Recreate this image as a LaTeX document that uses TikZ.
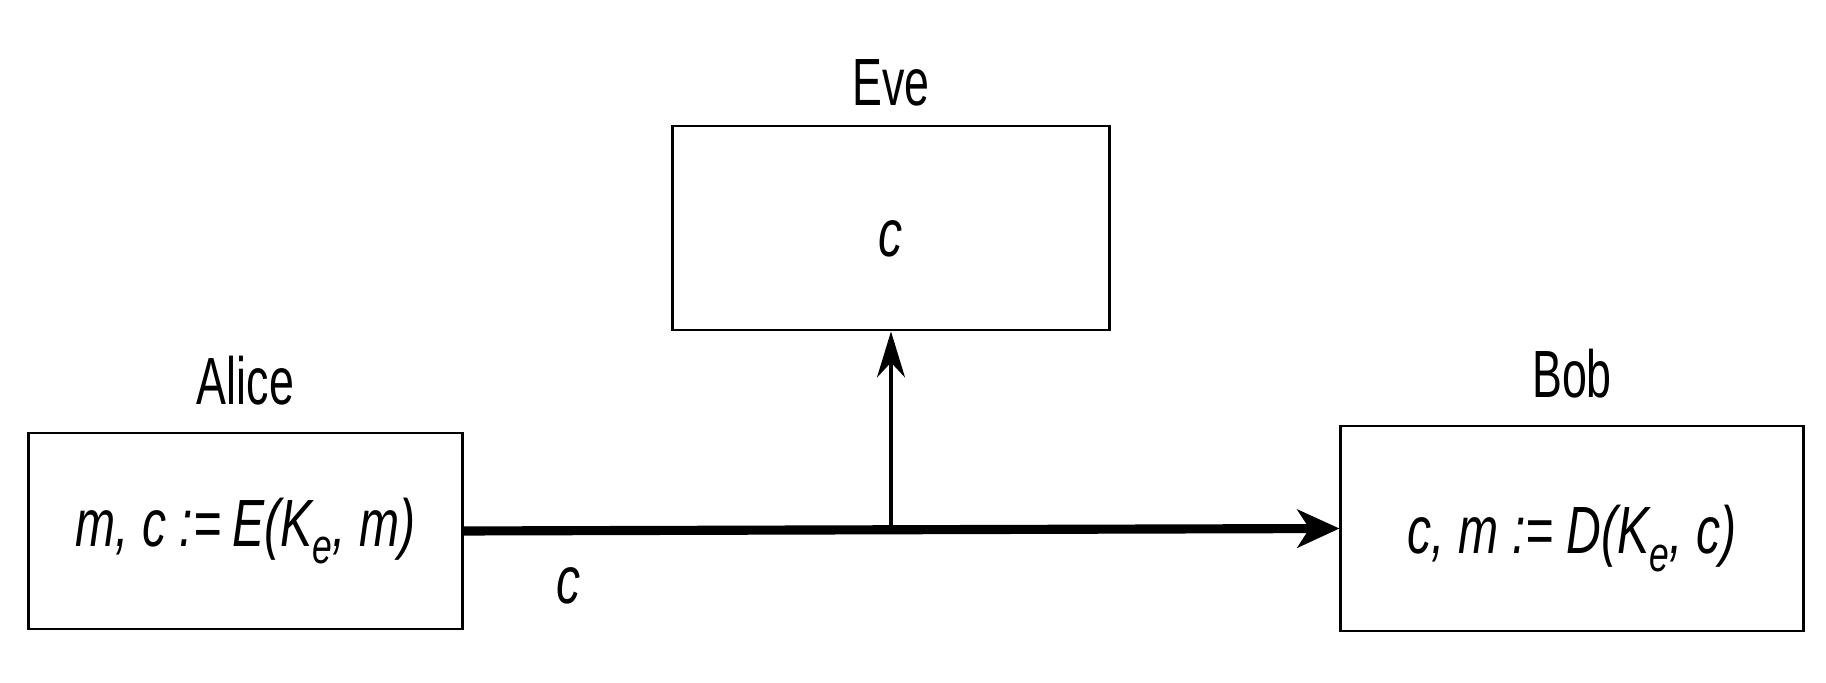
\documentclass[tikz,border=0pt]{standalone}
\usepackage{fontspec}
\setmainfont{Liberation Sans}[FakeStretch=0.67]
\newfontfamily\formfont{Liberation Sans}[FakeStretch=0.72]
\usetikzlibrary{positioning,arrows.meta}
\newcommand{\keysub}{\raisebox{-0.5ex}{\fontsize{14}{15}\selectfont e}}

\begin{document}
\begin{tikzpicture}[x=0.01cm,y=-0.01cm]
        \tikzstyle{every node}=[font=\fontsize{19}{22}\selectfont]
        \tikzstyle{party}=[draw,line width=0.8pt,inner sep=0pt,font=\fontsize{19}{22}\selectfont\formfont\itshape]
        \tikzstyle{who}=[inner sep=0pt]
        \useasboundingbox (0,0) rectangle (1826,683);
        \node[party,minimum width=4.33cm,minimum height=1.96cm] (alice) at (245.5,531) {m, c :=\,E(K\keysub, m)};
        \node[party,minimum width=4.36cm,minimum height=2.04cm] (eve) at (891,228) {\raisebox{-2.8mm}[0pt][0pt]{c}};
        \node[party,minimum width=4.62cm,minimum height=2.05cm] (bob) at (1572,528.5) {\raisebox{-2.5mm}[0pt][0pt]{c, m := D(K\keysub, c)}};
        \node[who,above=2.6mm of alice] (alicename) {Alice};
        \node[who,above=1.8mm of eve] (evename) {Eve};
        \node[who,above=2.6mm of bob] (bobname) {Bob};
        \coordinate (tap) at (eve.south |- alice.east);
        \draw[line width=2.6pt,-{Stealth[length=4.2mm,width=3.8mm,inset=1.2mm]}] (alice.east) -- (bob.west) node[pos=0.12,below=3.2mm,who,font=\fontsize{19}{22}\selectfont\formfont\itshape] (wire) {c};
        \draw[line width=0.9pt,-{Stealth[length=4.6mm,width=2.8mm,inset=1.5mm]}] (tap) -- (eve.south);
    \end{tikzpicture}
\end{document}
